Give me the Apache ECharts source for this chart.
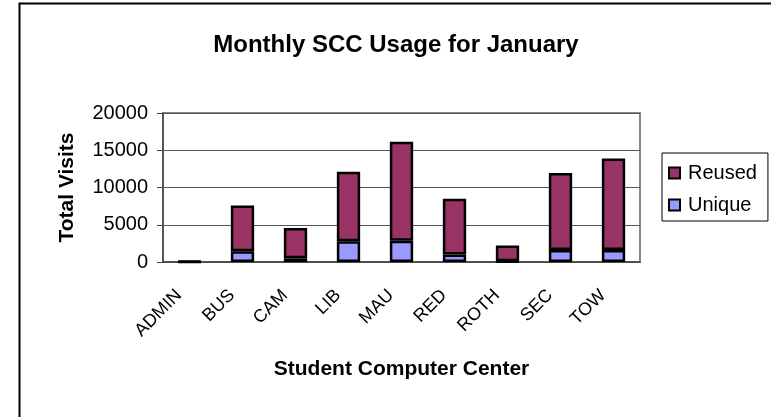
<!DOCTYPE html>
<html>
<head>
<meta charset="utf-8">
<script src="https://cdn.jsdelivr.net/npm/echarts@6/dist/echarts.min.js"></script>
<style>
html, body { margin: 0; padding: 0; background: #fff; }
#main { width: 771px; height: 417px; }
</style>
</head>
<body>
<div id="main"></div>
<script>
var centers = ['ADMIN', 'BUS', 'CAM', 'LIB', 'MAU', 'RED', 'ROTH', 'SEC', 'TOW'];
var unique = [30, 1450, 500, 2800, 2850, 1000, 100, 1600, 1600];
var reused = [90, 6150, 4050, 9300, 13300, 7500, 2100, 10350, 12300];
var yTicks = [0, 5000, 10000, 15000, 20000];

var chart = echarts.init(document.getElementById('main'));
var font = 'Arial, "Liberation Sans", sans-serif';

chart.setOption({
    animation: false,
    backgroundColor: '#fff',
    textStyle: { fontFamily: font },
    title: {
        text: 'Monthly SCC Usage for January',
        left: 391,
        top: 28,
        textAlign: 'center',
        textStyle: { fontSize: 24, fontWeight: 'bold', color: '#000', fontFamily: font }
    },
    legend: {
        data: ['Reused', 'Unique'],
        orient: 'vertical',
        left: 662,
        top: 153,
        padding: [10, 11, 6, 6],
        itemGap: 12,
        itemWidth: 11,
        itemHeight: 11,
        icon: 'rect',
        borderColor: '#000',
        borderWidth: 1,
        textStyle: { fontSize: 20, color: '#000', fontFamily: font, padding: [0, 0, 0, 3] }
    },
    grid: {
        left: 163,
        right: 131,
        top: 113,
        bottom: 155,
        show: true,
        borderColor: '#888',
        borderWidth: 2
    },
    xAxis: {
        type: 'category',
        data: centers,
        name: 'Student Computer Center',
        nameLocation: 'middle',
        nameGap: 97,
        nameTextStyle: { fontSize: 21, fontWeight: 'bold', color: '#000' },
        axisLine: { lineStyle: { color: '#444', width: 1.5 } },
        axisTick: { length: 6, lineStyle: { color: '#444' } },
        axisLabel: { rotate: 45, fontSize: 18, color: '#000', margin: 20, padding: [0, 15, 0, 0] }
    },
    yAxis: {
        type: 'value',
        min: yTicks[0],
        max: yTicks[yTicks.length - 1],
        interval: yTicks[1] - yTicks[0],
        name: 'Total Visits',
        nameLocation: 'middle',
        nameGap: 85,
        nameTextStyle: { fontSize: 21, fontWeight: 'bold', color: '#000' },
        axisLine: { show: true, lineStyle: { color: '#444', width: 1.5 } },
        axisTick: { show: true, length: 6, lineStyle: { color: '#444' } },
        axisLabel: { fontSize: 20, color: '#000', margin: 15, formatter: function (v) { return String(v); } },
        splitLine: { lineStyle: { color: '#555', width: 1 } }
    },
    graphic: [{
        type: 'rect',
        left: 17,
        top: 1,
        shape: { width: 800, height: 460 },
        style: { fill: 'none', stroke: '#000', lineWidth: 2 },
        silent: true
    }],
    series: [
        {
            name: 'Unique',
            type: 'bar',
            stack: 'visits',
            barWidth: '44%',
            data: unique,
            itemStyle: { color: '#9999FF', borderColor: '#000', borderWidth: 2.5 }
        },
        {
            name: 'Reused',
            type: 'bar',
            stack: 'visits',
            data: reused,
            itemStyle: { color: '#993366', borderColor: '#000', borderWidth: 2.5 }
        }
    ]
});
</script>
</body>
</html>
